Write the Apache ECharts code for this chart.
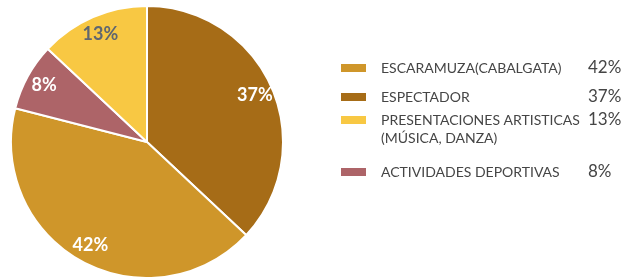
<!DOCTYPE html>
<html>
<head>
<meta charset="utf-8">
<script src="https://cdn.jsdelivr.net/npm/echarts@6/dist/echarts.min.js"></script>
<style>
    html, body { margin: 0; padding: 0; background: #fff; }
    #pie_chart { width: 622px; height: 277px; }
</style>
</head>
<body>
<div id="pie_chart"></div>
<script>
// slices, clockwise from 12 o'clock
var categories = ['ESPECTADOR', 'ESCARAMUZA(CABALGATA)', 'ACTIVIDADES DEPORTIVAS', 'PRESENTACIONES ARTISTICAS\n(MÚSICA, DANZA)'];
var values = [37, 42, 8, 13];
var colors = ['#a66c17', '#cf962a', '#ad6468', '#f8c843'];
var labelColors = ['#ffffff', '#ffffff', '#ffffff', '#5f6670'];
// legend rows, top to bottom
var legendOrder = ['ESCARAMUZA(CABALGATA)', 'ESPECTADOR', 'PRESENTACIONES ARTISTICAS\n(MÚSICA, DANZA)', 'ACTIVIDADES DEPORTIVAS'];
var legendTops = [59, 88, 93, 163];

var font = 'Lato, "Open Sans", sans-serif';

var pieData = categories.map(function (name, i) {
    return {
        name: name,
        value: values[i],
        itemStyle: { color: colors[i] }
    };
});

function legendText(name) {
    var i = categories.indexOf(name);
    var parts = name.split('\n');
    var s = '{n|' + parts[0] + '}{p|' + values[i] + '%}';
    for (var k = 1; k < parts.length; k++) {
        s += '\n{n|' + parts[k] + '}';
    }
    return s;
}

var legends = legendOrder.map(function (name, i) {
    var multi = name.indexOf('\n') >= 0;
    return {
        orient: 'vertical',
        left: 339,
        top: legendTops[i],
        padding: 0,
        itemWidth: 27,
        itemHeight: 10,
        icon: 'rect',
        selectedMode: false,
        data: [name],
        formatter: legendText,
        textStyle: {
            padding: multi ? [18, 0, 0, 0] : 0,
            lineHeight: 18,
            rich: {
                n: { width: 207, padding: [0, 0, 0, 9], fontSize: 14, fontFamily: font, color: '#454545', lineHeight: 18 },
                p: { fontSize: 17, fontFamily: font, color: '#454545', lineHeight: 18 }
            }
        }
    };
});

var chart = echarts.init(document.getElementById('pie_chart'));
var option = {
    animation: false,
    legend: legends,
    series: [
        {
            type: 'pie',
            center: [147, 142],
            radius: 136,
            startAngle: 90,
            clockwise: true,
            data: pieData,
            label: { show: false },
            labelLine: { show: false },
            itemStyle: { borderColor: '#ffffff', borderWidth: 2 },
            emphasis: { disabled: true }
        },
        {
            // transparent ring only used to place the labels further out
            type: 'pie',
            center: [147, 142],
            radius: [93, 136],
            startAngle: 90,
            clockwise: true,
            silent: true,
            data: categories.map(function (name, i) {
                return {
                    name: name,
                    value: values[i],
                    itemStyle: { color: 'rgba(0,0,0,0)' },
                    label: { color: labelColors[i] }
                };
            }),
            label: {
                show: true,
                position: 'inside',
                formatter: '{c}%',
                fontSize: 18,
                fontWeight: 'bold',
                fontFamily: font
            },
            labelLine: { show: false },
            emphasis: { disabled: true }
        }
    ]
};
chart.setOption(option);
</script>
</body>
</html>
